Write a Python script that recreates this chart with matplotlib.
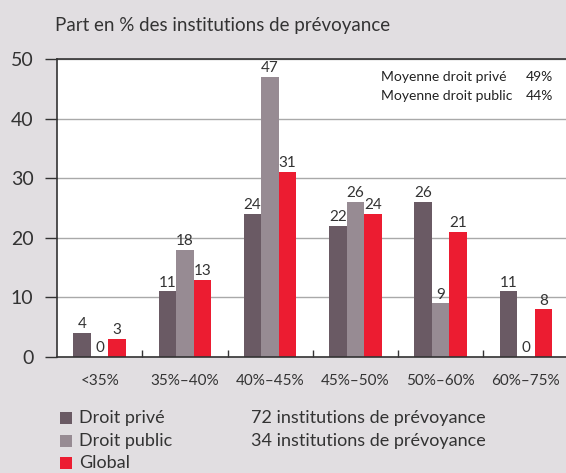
import numpy as np
import matplotlib
matplotlib.use('Agg')
import matplotlib.pyplot as plt
from matplotlib.patches import Rectangle

# donnees
categories = ["<35%", "35%\u201340%", "40%\u201345%", "45%\u201350%", "50%\u201360%", "60%\u201375%"]
prive = [4, 11, 24, 22, 26, 11]
public = [0, 18, 47, 26, 9, 0]
globalv = [3, 13, 31, 24, 21, 8]
series_noms = ["Droit priv\u00e9", "Droit public", "Global"]
series_info = ["72 institutions de pr\u00e9voyance", "34 institutions de pr\u00e9voyance", ""]
moyennes = [("Moyenne droit priv\u00e9", "49%"), ("Moyenne droit public", "44%")]

c_prive = '#6a5a64'
c_public = '#978b93'
c_global = '#ec1c31'
fond = '#e1dee1'

plt.rcParams['font.family'] = ['Lato', 'DejaVu Sans']

fig = plt.figure(figsize=(5.66, 4.73), dpi=100, facecolor=fond)
ax = fig.add_axes([57/566, 1-357/473, 1-57/566, 298/473])
ax.set_facecolor('white')

x = np.arange(len(categories))
w = 0.205
series = [prive, public, globalv]
couleurs = [c_prive, c_public, c_global]
for i, (vals, col) in enumerate(zip(series, couleurs)):
    pos = x + (i-1)*w
    edges = ['#c8c3c7' if v == 0 else 'none' for v in vals]
    ax.bar(pos, vals, width=w, color=col, edgecolor=edges, linewidth=1.0, zorder=3)
    for p, v in zip(pos, vals):
        ax.text(p, v+0.3, str(v), ha='center', va='bottom', fontsize=11, color='#333333',
                zorder=5, clip_on=False)

ax.set_xlim(-0.5, 5.47)
ax.set_ylim(0, 50)
ax.set_yticks([0, 10, 20, 30, 40, 50])
ax.tick_params(axis='y', direction='out', length=9, width=1, color='#333333', labelsize=14, pad=8, labelcolor='#333333')
ax.set_xticks(x)
ax.set_xticklabels(categories)
ax.tick_params(axis='x', length=0, labelsize=11, pad=12, labelcolor='#333333')
ax.set_xticks(np.arange(0.5, 5, 1), minor=True)
ax.tick_params(axis='x', which='minor', direction='in', length=5, width=1, color='#333333')
ax.grid(axis='y', color='#a9a9a9', linewidth=1, zorder=0)
ax.set_axisbelow(True)
for s in ['left', 'bottom', 'top']:
    ax.spines[s].set_color('#333333')
    ax.spines[s].set_linewidth(1.2)
    ax.spines[s].set_zorder(4)
ax.spines['right'].set_visible(False)

fig.text(55/566, 1-25/473, "Part en % des institutions de pr\u00e9voyance", fontsize=13.5, color='#333333', va='center')

for k, (lab, val) in enumerate(moyennes):
    yy = 0.94 - k*0.065
    ax.text(0.636, yy, lab, transform=ax.transAxes, fontsize=10, color='#222222', va='center')
    ax.text(0.975, yy, val, transform=ax.transAxes, fontsize=10, color='#222222', va='center', ha='right')

for k, (nom, info, col) in enumerate(zip(series_noms, series_info, couleurs)):
    yc = 1 - (418 + k*22.5)/473
    fig.patches.append(Rectangle((60/566, yc-6/473), 12/566, 12/473, transform=fig.transFigure,
                                 facecolor=col, edgecolor='none'))
    fig.text(79/566, yc, nom, fontsize=13, color='#333333', va='center')
    if info:
        fig.text(251/566, yc, info, fontsize=13, color='#333333', va='center')

plt.savefig("out.png", dpi=100, facecolor=fond)
